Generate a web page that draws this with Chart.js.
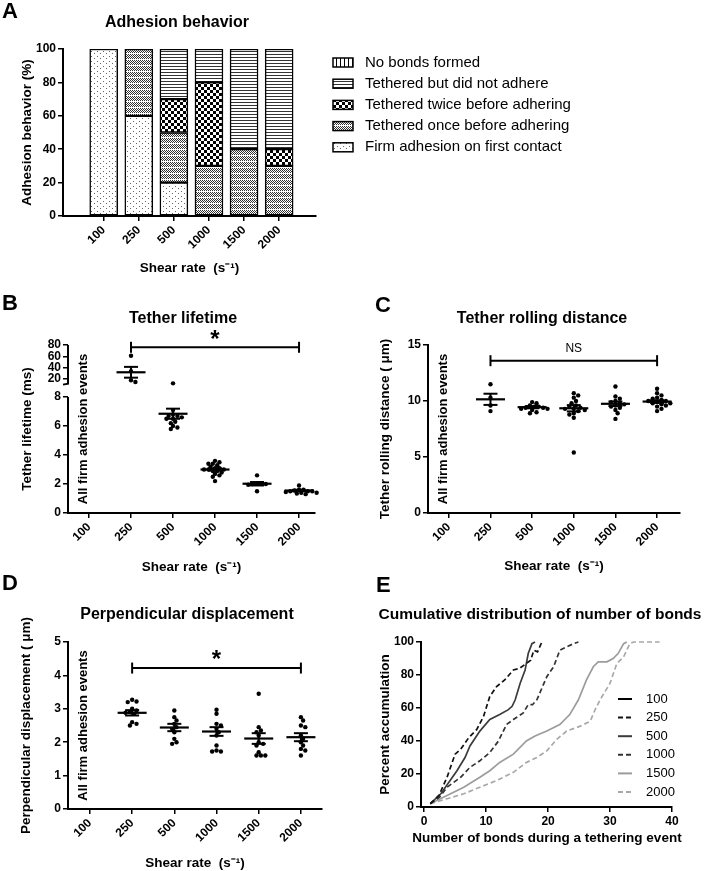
<!DOCTYPE html>
<html><head><meta charset="utf-8">
<script src="https://cdn.jsdelivr.net/npm/chart.js@4.4.1/dist/chart.umd.min.js"></script>
<style>
html,body{margin:0;padding:0;background:#fff;width:710px;height:871px;overflow:hidden;position:relative;font-family:"Liberation Sans",Arial,sans-serif;}
canvas{position:absolute;}
.lbl{position:absolute;font-weight:bold;font-size:22px;line-height:22px;color:#000;}
</style></head><body>
<canvas id="cA" width="710" height="290" style="left:0;top:0"></canvas>
<canvas id="cB" width="350" height="295" style="left:0;top:290px"></canvas>
<canvas id="cC" width="360" height="295" style="left:350px;top:290px"></canvas>
<canvas id="cD" width="350" height="286" style="left:0;top:585px"></canvas>
<canvas id="cE" width="360" height="286" style="left:350px;top:585px"></canvas>
<div class="lbl" style="left:2px;top:0px">A</div>
<div class="lbl" style="left:2px;top:292px">B</div>
<div class="lbl" style="left:375px;top:294px">C</div>
<div class="lbl" style="left:2px;top:572px">D</div>
<div class="lbl" style="left:376px;top:574px">E</div>
<script>
// ---------------- DATA ----------------
const shearRates = ['100', '250', '500', '1000', '1500', '2000'];

// Panel A: adhesion behaviour (%)
const adhesionLabels = ['Firm adhesion on first contact', 'Tethered once before adhering',
  'Tethered twice before adhering', 'Tethered but did not adhere', 'No bonds formed'];
const firmAdhesion  = [100, 60, 20, 0, 0, 0];
const tetheredOnce  = [0, 40, 30, 30, 40, 30];
const tetheredTwice = [0, 0, 20, 50, 0, 10];
const tetheredNoAdh = [0, 0, 30, 20, 60, 60];
const noBonds       = [0, 0, 0, 0, 0, 0];
const percentTicks  = [0, 20, 40, 60, 80, 100];

// Panel B: tether lifetime (ms)
const lifetime100  = [];
const lifetime250  = [61, 34, 18, 15];
const lifetime500  = [12.5, 7.1, 6.8, 6.7, 6.7, 6.6, 6.5, 6.5, 6.3, 6.2, 6.0, 5.9, 5.8];
const lifetime1000 = [3.6, 3.5, 3.4, 3.4, 3.3, 3.2, 3.1, 3.1, 3.0, 3.0, 3.0, 2.9, 2.9, 2.8, 2.7, 2.6, 2.5, 2.2];
const lifetime1500 = [2.6, 2.05, 2.0, 2.0, 2.0, 1.95, 1.5];
const lifetime2000 = [1.9, 1.6, 1.6, 1.55, 1.5, 1.5, 1.5, 1.45, 1.4, 1.4, 1.35, 1.3];
const lifetimeMean = [null, 32, 6.85, 3.0, 2.02, 1.55];
const lifetimeSem  = [null, 9.5, 0.35, 0.08, 0.12, 0.05];
const lifetimeTicks = [0, 2, 4, 6, 8, 20, 40, 60, 80];
const lifetimeBreak = [8, 12];          // axis break: lower segment top, upper segment bottom
const lifetimeBracket = [1, 5];
const lifetimeBracketY = 76;
const lifetimeSig = '*';

// Panel C: tether rolling distance (um)
const rolling100  = [];
const rolling250  = [11.5, 10.3, 9.6, 9.1];
const rolling500  = [9.9, 9.8, 9.6, 9.5, 9.5, 9.4, 9.4, 9.3, 9.3, 9.2, 9.0, 8.9];
const rolling1000 = [10.7, 10.5, 10.3, 10.0, 9.8, 9.6, 9.5, 9.4, 9.3, 9.3, 9.2, 9.1, 8.9, 8.8, 8.5, 5.4];
const rolling1500 = [11.3, 10.4, 10.2, 10.0, 9.9, 9.8, 9.7, 9.6, 9.5, 9.4, 9.2, 8.9, 8.4];
const rolling2000 = [11.1, 10.7, 10.5, 10.3, 10.2, 10.1, 10.0, 10.0, 9.9, 9.8, 9.8, 9.7, 9.6, 9.5, 9.3, 9.1];
const rollingMean = [null, 10.15, 9.45, 9.35, 9.75, 9.95];
const rollingSem  = [null, 0.5, 0.1, 0.28, 0.2, 0.12];
const rollingTicks = [0, 5, 10, 15];
const rollingBracket = [1, 5];
const rollingBracketY = 13.6;
const rollingSig = 'NS';

// Panel D: perpendicular displacement (um)
const perp100  = [];
const perp250  = [3.27, 3.22, 3.2, 3.0, 2.95, 2.9, 2.88, 2.85, 2.6, 2.55, 2.5];
const perp500  = [2.95, 2.75, 2.65, 2.55, 2.45, 2.4, 2.3, 2.1, 2.0, 1.95];
const perp1000 = [2.97, 2.85, 2.55, 2.5, 2.4, 2.3, 2.2, 1.9, 1.75, 1.72, 1.72];
const perp1500 = [3.45, 2.45, 2.35, 2.3, 2.2, 2.0, 1.95, 1.9, 1.7, 1.6, 1.6, 1.6];
const perp2000 = [2.75, 2.65, 2.5, 2.45, 2.2, 2.1, 2.0, 1.9, 1.8, 1.75, 1.6];
const perpMean = [null, 2.88, 2.44, 2.32, 2.11, 2.15];
const perpSem  = [null, 0.08, 0.11, 0.13, 0.16, 0.12];
const perpTicks = [0, 1, 2, 3, 4, 5];
const perpBracket = [1, 5];
const perpBracketY = 4.22;
const perpSig = '*';

// Panel E: cumulative distribution of number of bonds
const bondsTicksX = [0, 10, 20, 30, 40];
const bondsTicksY = [0, 20, 40, 60, 80, 100];
const bonds100x = [];
const bonds100y = [];
const bonds250x = [1, 2.4, 3.7, 5.0, 5.9, 7.2, 8.5, 9.6, 10.6, 11.7, 13.0, 14.4, 15.4, 16.5, 17.2, 17.7, 18.3, 19.0];
const bonds250y = [2, 7, 18, 32, 35, 42, 47, 55, 67, 73, 77, 83, 84, 87, 89, 95, 94, 100];
const bonds500x = [1, 2.7, 4, 5.3, 6.6, 7.4, 9, 10.6, 12.2, 13.6, 14.2, 14.7, 15.5, 16.3, 16.8, 17.4, 17.9];
const bonds500y = [2, 8, 15, 22, 30, 37, 46, 53, 56, 59, 61, 65, 75, 83, 93, 99, 100];
const bonds1000x = [1, 2.5, 3.7, 5.9, 7.4, 9, 10.6, 12, 13.3, 14.4, 16, 16.8, 17.5, 18.2, 19.8, 20.9, 21.9, 23, 24.1, 24.9];
const bonds1000y = [2, 6, 12, 18, 24, 28, 33, 40, 50, 53, 57, 62, 62, 65, 79, 85, 95, 97, 99, 100];
const bonds1500x = [1, 3.7, 6.4, 9, 10.6, 12.2, 14.4, 16.5, 17.9, 19.8, 21.9, 23.5, 24.9, 26.2, 27.3, 28.1, 29.5, 30.5, 31.3, 32.2, 32.7];
const bonds1500y = [2, 7, 12, 18, 22, 27, 32, 40, 43, 46, 50, 56, 65, 77, 85, 88, 88, 90, 93, 99, 100];
const bonds2000x = [1, 3.7, 6.4, 9, 11.7, 14.4, 16.5, 18.2, 19.8, 21.4, 23, 25.2, 26.8, 27.6, 28.4, 30, 31.1, 32.2, 33.2, 33.8, 38];
const bonds2000y = [2, 5, 8, 12, 16, 21, 27, 30, 34, 41, 46, 49, 52, 59, 65, 75, 87, 91, 99, 100, 100];

// ---------------- STYLE / HELPERS ----------------
const FAM = '"Liberation Sans", Arial, sans-serif';
Chart.defaults.font.family = FAM;
Chart.defaults.color = '#000';
Chart.defaults.animation = false;
Chart.defaults.events = [];
Chart.defaults.plugins.legend.display = false;
Chart.defaults.plugins.tooltip.enabled = false;

const FONT_TICK = {size: 12, weight: 'bold'};
const FONT_AXIS = {size: 13.5, weight: 'bold'};
const AXIS_TITLE_X = 'Shear rate  (s\u207B\u00B9)';

function yAxis(width, text, padTop, extra) {
  return Object.assign({
    position: 'left',
    afterFit: s => { s.width = width; },
    border: {display: true, color: '#000', width: 2},
    grid: {display: true, drawOnChartArea: false, drawTicks: true, tickLength: 5, color: '#000', lineWidth: 1.5},
    ticks: {font: FONT_TICK, color: '#000', padding: 2, autoSkip: false},
    title: {display: true, text: text, font: FONT_AXIS, color: '#000', padding: {top: padTop, bottom: 0}}
  }, extra);
}
function xAxis(height, min, max, ticksArr, labelFn, rot, text, padBottom) {
  return {
    type: 'linear', position: 'bottom', min: min, max: max,
    afterFit: s => { s.height = height; },
    afterBuildTicks: s => { s.ticks = ticksArr.map(v => ({value: v})); },
    border: {display: true, color: '#000', width: 2},
    grid: {display: true, drawOnChartArea: false, drawTicks: true, tickLength: 5, color: '#000', lineWidth: 1.5, offset: false},
    ticks: {font: FONT_TICK, color: '#000', padding: 2, autoSkip: false, minRotation: rot, maxRotation: rot, callback: labelFn},
    title: {display: text !== null, text: text || '', font: FONT_AXIS, color: '#000', padding: {top: 0, bottom: padBottom}}
  };
}
const catIndex = shearRates.map((_, i) => i);
const catLabel = v => shearRates[Math.round(v)];

// text plugin: titles, inner labels, significance marks
function textPlugin(items) {
  return { id: 'texts', afterDraw(chart) {
    const ctx = chart.ctx, ca = chart.chartArea;
    items.forEach(it => {
      let x = it.x, y = it.y;
      if (it.dataX !== undefined) x = chart.scales.x.getPixelForValue(it.dataX);
      if (it.dataY !== undefined) y = chart.scales.y.getPixelForValue(it.dataY) + (it.dy || 0);
      if (it.inner) { x = ca.left + it.inner; y = (ca.top + ca.bottom) / 2; }
      ctx.save();
      ctx.font = it.font; ctx.fillStyle = '#000';
      ctx.textAlign = it.align || 'center'; ctx.textBaseline = it.baseline || 'middle';
      ctx.translate(x, y); if (it.rotate) ctx.rotate(it.rotate);
      ctx.fillText(it.text, 0, 0);
      ctx.restore();
    });
  }};
}

// ---------------- PANEL A ----------------
function makePattern(w, h, draw) {
  const c = document.createElement('canvas'); c.width = w; c.height = h;
  const g = c.getContext('2d');
  g.fillStyle = '#fff'; g.fillRect(0, 0, w, h); g.fillStyle = '#000';
  draw(g);
  return g.createPattern(c, 'repeat');
}
const patFirm = makePattern(6, 5, g => { g.fillStyle = '#666'; g.fillRect(1, 1, 1, 1); g.fillRect(4, 3, 1, 1); });
const patOnce = makePattern(4, 6, g => { g.fillStyle = '#333'; for (let y = 0; y < 5; y++) for (let x = 0; x < 4; x++) if ((x + y) % 2 === 0) g.fillRect(x, y, 1, 1); });
const patTwice = makePattern(6, 6, g => { g.fillRect(0, 0, 3, 3); g.fillRect(3, 3, 3, 3); });
const patNoAdh = makePattern(4, 3, g => { g.fillStyle = '#333'; g.fillRect(0, 0, 4, 1); });
const patNoBond = makePattern(4, 4, g => { g.fillRect(0, 0, 1, 4); });
const adhSeries = [firmAdhesion, tetheredOnce, tetheredTwice, tetheredNoAdh, noBonds];
const adhFills = [patFirm, patOnce, patTwice, patNoAdh, patNoBond];

const adhesionLegend = { id: 'adhLegend', afterDraw(chart) {
  const ctx = chart.ctx;
  const dsets = chart.data.datasets.slice().reverse();
  dsets.forEach((d, k) => {
    const y = 62.5 + k * 21.2;
    ctx.save();
    ctx.fillStyle = d.backgroundColor; ctx.fillRect(333, y - 4.5, 20, 9);
    ctx.strokeStyle = '#000'; ctx.lineWidth = 1.5; ctx.strokeRect(333, y - 4.5, 20, 9);
    ctx.font = '15px ' + FAM; ctx.fillStyle = '#000'; ctx.textAlign = 'left'; ctx.textBaseline = 'middle';
    ctx.fillText(d.label, 365, y);
    ctx.restore();
  });
}};

new Chart(document.getElementById('cA'), {
  type: 'bar',
  data: {
    datasets: adhSeries.map((vals, k) => ({
      label: adhesionLabels[k],
      data: vals.map((v, i) => ({x: i, y: v})),
      backgroundColor: adhFills[k], borderColor: '#000', borderWidth: 1.5, borderSkipped: false,
      barThickness: 28
    }))
  },
  options: {
    responsive: false,
    layout: {padding: {left: 0, top: 49, right: 394, bottom: 0}},
    scales: {
      x: Object.assign(xAxis(74, -0.56, 5.45, catIndex, catLabel, 45, AXIS_TITLE_X, 13.6), {stacked: true}),
      y: yAxis(63, 'Adhesion behavior (%)', 19.6, {stacked: true, min: 0, max: 100,
        afterBuildTicks: s => { s.ticks = percentTicks.map(v => ({value: v})); }})
    }
  },
  plugins: [adhesionLegend, textPlugin([
    {text: 'Adhesion behavior', x: 177, y: 23, font: 'bold 16px ' + FAM}
  ])]
});

// ---------------- SCATTER PANELS (B, C, D) ----------------
class BrokenScale extends Chart.LinearScale {
  getPixelForValue(value) {
    const b = this.bottom, t = this.top, H = b - t;
    const lowTop = b - H * 0.69, upBottom = lowTop - H * 0.08;
    const lo = lifetimeBreak[0], hi = lifetimeBreak[1];
    if (value <= lo) return b - (value - this.min) / (lo - this.min) * (b - lowTop);
    if (value >= hi) return upBottom - (value - hi) / (this.max - hi) * (upBottom - t);
    return lowTop - (value - lo) / (hi - lo) * (lowTop - upBottom);
  }
  getValueForPixel(p) {
    const b = this.bottom, t = this.top, H = b - t;
    const lowTop = b - H * 0.69, upBottom = lowTop - H * 0.08;
    const lo = lifetimeBreak[0], hi = lifetimeBreak[1];
    if (p >= lowTop) return this.min + (b - p) / (b - lowTop) * (lo - this.min);
    if (p <= upBottom) return hi + (upBottom - p) / (upBottom - t) * (this.max - hi);
    return lo + (lowTop - p) / (lowTop - upBottom) * (hi - lo);
  }
}
BrokenScale.id = 'broken';
BrokenScale.defaults = Chart.LinearScale.defaults;
Chart.register(BrokenScale);

const brokenAxisPlugin = { id: 'brokenAxis', afterDraw(chart) {
  const s = chart.scales.y, x = chart.chartArea.left, ctx = chart.ctx;
  const pTop = s.getPixelForValue(s.max), pUb = s.getPixelForValue(lifetimeBreak[1]);
  const pLt = s.getPixelForValue(lifetimeBreak[0]), pBot = s.getPixelForValue(s.min);
  ctx.save(); ctx.strokeStyle = '#000'; ctx.lineWidth = 2;
  ctx.beginPath();
  ctx.moveTo(x, pTop); ctx.lineTo(x, pUb); ctx.lineTo(x - 5, pUb + 1);
  ctx.moveTo(x, pLt); ctx.lineTo(x, pBot + 1);
  ctx.stroke(); ctx.restore();
}};

function scatterPanel(id, p) {
  const ds = [];
  const means = [], caps = [], vert = [];
  p.mean.forEach((m, i) => {
    if (m == null) return;
    const s = p.sem[i];
    means.push({x: i, y: m});
    caps.push({x: i, y: m + s}, {x: i, y: m - s});
    vert.push({x: i, y: m - s}, {x: i, y: m + s}, {x: i, y: null});
  });
  ds.push({data: means, pointStyle: 'line', pointRadius: 14.5, pointBorderWidth: 2.2, pointBorderColor: '#000', showLine: false, clip: false});
  ds.push({data: caps, pointStyle: 'line', pointRadius: 7, pointBorderWidth: 2, pointBorderColor: '#000', showLine: false, clip: false});
  ds.push({data: vert, showLine: true, pointRadius: 0, borderColor: '#000', borderWidth: 2, spanGaps: false, clip: false});
  ds.push({data: [{x: p.bracket[0], y: p.bracketY}, {x: p.bracket[1], y: p.bracketY}], showLine: true,
    borderColor: '#000', borderWidth: 2, pointStyle: 'line', pointRotation: 90, pointRadius: 5.5,
    pointBorderWidth: 2, pointBorderColor: '#000', clip: false});
  ds.push({data: p.points.flatMap((vals, i) => vals.map(v => ({x: i, y: v}))), pointStyle: 'circle', pointRadius: 2.2,
    pointBackgroundColor: '#000', pointBorderWidth: 0, showLine: false, clip: false});

  const texts = [
    {text: p.title, x: p.titleX, y: p.titleY, font: 'bold 16px ' + FAM},
    {text: 'All firm adhesion events', inner: 15, rotate: -Math.PI / 2, font: 'bold 13px ' + FAM},
    {text: p.sig, dataX: (p.bracket[0] + p.bracket[1]) / 2, dataY: p.bracketY, dy: p.sigDy,
      baseline: 'alphabetic', font: p.sigFont}
  ];
  const plugins = [textPlugin(texts)];
  if (p.extraPlugin) plugins.push(p.extraPlugin);
  const chart = new Chart(document.getElementById(id), {
    type: 'scatter',
    data: {datasets: ds},
    options: {
      responsive: false,
      layout: {padding: {left: 0, top: p.area.top, right: p.area.right, bottom: 0}},
      scales: {
        x: xAxis(p.area.xh, p.xmin, p.xmax, catIndex, catLabel, 45, AXIS_TITLE_X, p.xPad),
        y: yAxis(p.area.left, p.ytitle, p.yPad, p.yExtra)
      }
    },
    plugins: plugins
  });
  // beeswarm spread of the points (computed from scale pixels)
  const xs = chart.scales.x, ys = chart.scales.y;
  const pxPerX = xs.getPixelForValue(1) - xs.getPixelForValue(0);
  const STEP = 2.2, MIN_D = 3.6;
  const spread = [];
  p.points.forEach((vals, i) => {
    const placed = [];
    vals.forEach(v => {
      const py = ys.getPixelForValue(v);
      let off = 0;
      for (let k = 0; k < 60; k++) {
        const cand = k === 0 ? 0 : (k % 2 ? 1 : -1) * Math.ceil(k / 2) * STEP;
        if (placed.every(q => Math.hypot(q.x - cand, q.y - py) >= MIN_D)) { off = cand; break; }
      }
      placed.push({x: off, y: py});
      spread.push({x: i + off / pxPerX, y: v});
    });
  });
  chart.data.datasets[4].data = spread;
  chart.update('none');
  return chart;
}

scatterPanel('cB', {
  points: [lifetime100, lifetime250, lifetime500, lifetime1000, lifetime1500, lifetime2000],
  mean: lifetimeMean, sem: lifetimeSem, bracket: lifetimeBracket, bracketY: lifetimeBracketY,
  sig: lifetimeSig, sigFont: 'bold 24px ' + FAM, sigDy: 0,
  title: 'Tether lifetime', titleX: 183, titleY: 29,
  area: {left: 68, top: 55, right: 35, xh: 72}, xmin: -0.5, xmax: 5.38, xPad: 9.6,
  ytitle: 'Tether lifetime (ms)', yPad: 19.6,
  yExtra: {type: 'broken', min: 0, max: 80, border: {display: false},
    afterBuildTicks: s => { s.ticks = lifetimeTicks.map(v => ({value: v})); }},
  extraPlugin: brokenAxisPlugin
});

scatterPanel('cC', {
  points: [rolling100, rolling250, rolling500, rolling1000, rolling1500, rolling2000],
  mean: rollingMean, sem: rollingSem, bracket: rollingBracket, bracketY: rollingBracketY,
  sig: rollingSig, sigFont: '12px ' + FAM, sigDy: -8.5,
  title: 'Tether rolling distance', titleX: 192, titleY: 29,
  area: {left: 78, top: 55, right: 30, xh: 72}, xmin: -0.5, xmax: 5.55, xPad: 10.6,
  ytitle: 'Tether rolling distance ( \u03BCm)', yPad: 27.6,
  yExtra: {min: 0, max: 15, afterBuildTicks: s => { s.ticks = rollingTicks.map(v => ({value: v})); }}
});

scatterPanel('cD', {
  points: [perp100, perp250, perp500, perp1000, perp1500, perp2000],
  mean: perpMean, sem: perpSem, bracket: perpBracket, bracketY: perpBracketY,
  sig: perpSig, sigFont: 'bold 24px ' + FAM, sigDy: -1.5,
  title: 'Perpendicular displacement', titleX: 187, titleY: 30,
  area: {left: 68, top: 57, right: 28, xh: 62}, xmin: -0.52, xmax: 5.5, xPad: 0,
  ytitle: 'Perpendicular displacement ( \u03BCm)', yPad: 18.6,
  yExtra: {min: 0, max: 5, afterBuildTicks: s => { s.ticks = perpTicks.map(v => ({value: v})); }}
});

// ---------------- PANEL E ----------------
const bondSeries = [
  {label: '100',  x: bonds100x,  y: bonds100y,  color: '#000',    dash: []},
  {label: '250',  x: bonds250x,  y: bonds250y,  color: '#111',    dash: [5, 3]},
  {label: '500',  x: bonds500x,  y: bonds500y,  color: '#3c3c3c', dash: []},
  {label: '1000', x: bonds1000x, y: bonds1000y, color: '#333',    dash: [5, 3]},
  {label: '1500', x: bonds1500x, y: bonds1500y, color: '#9c9c9c', dash: []},
  {label: '2000', x: bonds2000x, y: bonds2000y, color: '#a8a8a8', dash: [5, 3]}
];
const bondsLegend = { id: 'bondsLegend', afterDraw(chart) {
  const ctx = chart.ctx;
  chart.data.datasets.forEach((d, k) => {
    const y = 114 + k * 18.6;
    ctx.save();
    ctx.strokeStyle = d.borderColor; ctx.lineWidth = 2; ctx.setLineDash(d.borderDash || []);
    ctx.beginPath(); ctx.moveTo(268, y); ctx.lineTo(282, y); ctx.stroke();
    ctx.setLineDash([]);
    ctx.font = '13px ' + FAM; ctx.fillStyle = '#000'; ctx.textAlign = 'left'; ctx.textBaseline = 'middle';
    ctx.fillText(d.label, 296, y);
    ctx.restore();
  });
}};
new Chart(document.getElementById('cE'), {
  type: 'scatter',
  data: {datasets: bondSeries.map(s => ({
    label: s.label, data: s.x.map((xv, i) => ({x: xv, y: s.y[i]})),
    showLine: true, pointRadius: 0, borderColor: s.color, borderWidth: 1.7, borderDash: s.dash,
    tension: 0, clip: false
  }))},
  options: {
    responsive: false,
    layout: {padding: {left: 0, top: 57, right: 38, bottom: 0}},
    scales: {
      x: xAxis(64, -0.5, 40, bondsTicksX, v => v, 0, null, 0),
      y: yAxis(71, 'Percent accumulation', 27.6, {min: 0, max: 100,
        afterBuildTicks: s => { s.ticks = bondsTicksY.map(v => ({value: v})); }})
    }
  },
  plugins: [bondsLegend, textPlugin([
    {text: 'Cumulative distribution of number of bonds', x: 190, y: 30, font: 'bold 15.5px ' + FAM},
    {text: 'Number of bonds during a tethering event', x: 197, y: 253, font: 'bold 13.5px ' + FAM}
  ])]
});
</script>
</body></html>
